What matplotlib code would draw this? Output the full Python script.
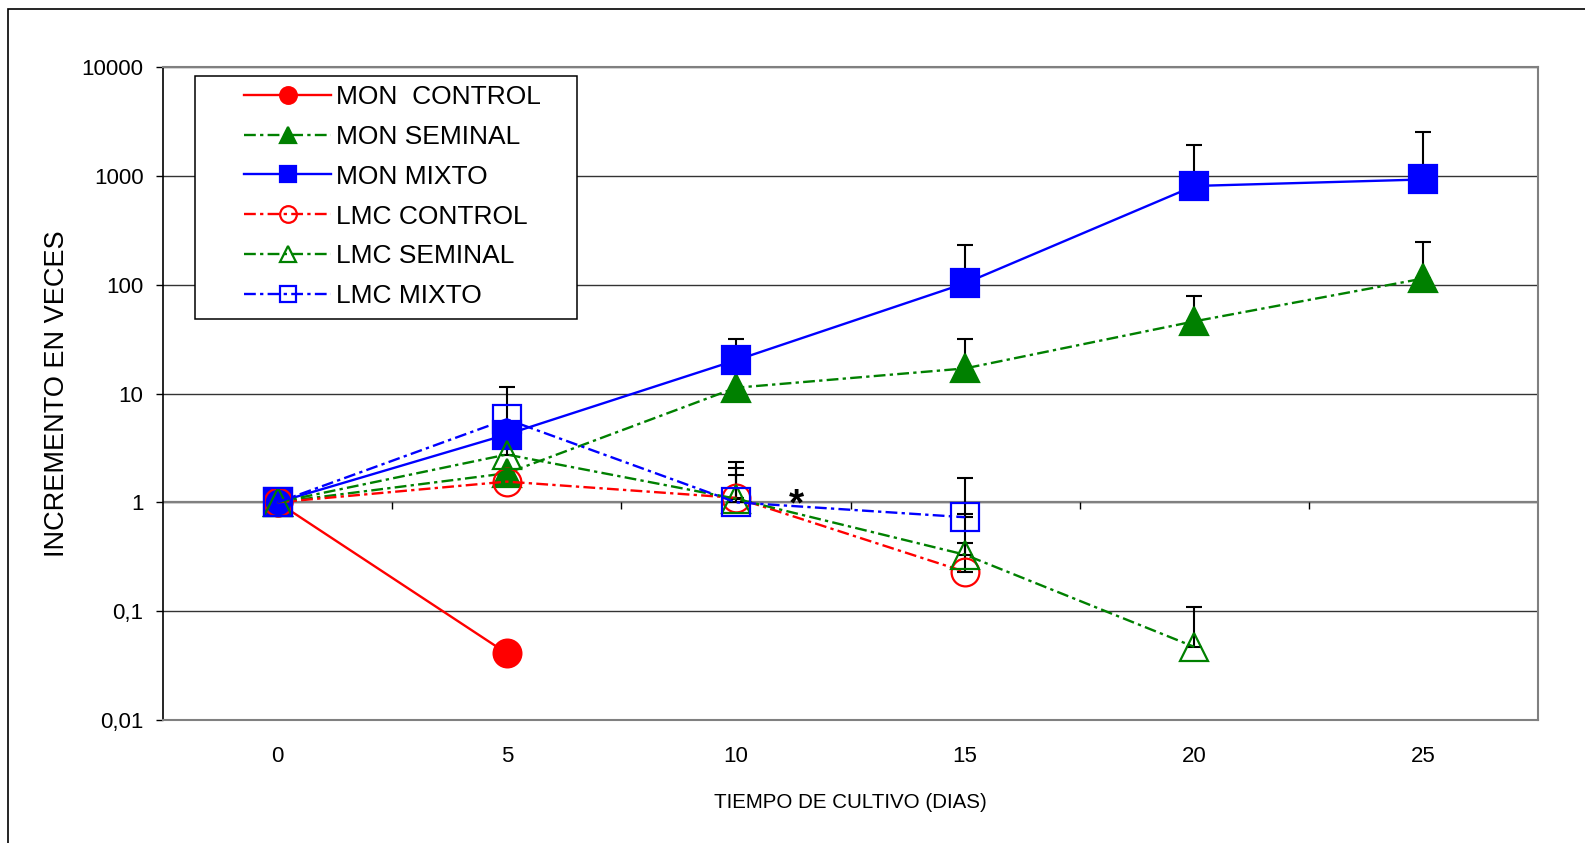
import numpy as np
import matplotlib
matplotlib.use("Agg")
import matplotlib.pyplot as plt
from matplotlib.patches import Rectangle
from matplotlib import markers as mmarkers

# ---------------- data ----------------
days = [0, 5, 10, 15, 20, 25]
nan = np.nan

mon_control = [1, 0.041, nan, nan, nan, nan]
mon_seminal = [1, 1.85, 11.3, 17, 46, 114]
mon_mixto = [1, 4.2, 20.2, 103, 807, 926]
lmc_control = [1, 1.55, 1.1, 0.23, nan, nan]
lmc_seminal = [1, 2.75, 1.08, 0.33, 0.047, nan]
lmc_mixto = [1, 5.8, 1.0, 0.73, nan, nan]

# upper ends of the error bars
mon_control_top = [nan, nan, nan, nan, nan, nan]
mon_seminal_top = [nan, nan, nan, 32, 78, 247]
mon_mixto_top = [nan, nan, 31.8, 232, 1905, 2550]
lmc_control_top = [nan, nan, 2.37, 0.78, nan, nan]
lmc_seminal_top = [nan, 11.4, 2.06, 0.42, 0.11, nan]
lmc_mixto_top = [nan, nan, 1.79, 1.69, nan, nan]

labels = ["MON  CONTROL", "MON SEMINAL", "MON MIXTO",
          "LMC CONTROL", "LMC SEMINAL", "LMC MIXTO"]

y_ticks = [0.01, 0.1, 1, 10, 100, 1000, 10000]
y_tick_labels = ["0,01", "0,1", "1", "10", "100", "1000", "10000"]
x_tick_labels = ["0", "5", "10", "15", "20", "25"]

# ---------------- styles ----------------
RED, GREEN, BLUE = "#ff0000", "#008000", "#0000ff"
DASHDOT = (0, (5.0, 1.8, 1.4, 1.8))
styles = {
    "MON  CONTROL": dict(color=RED, marker="o", filled=True, ls="-"),
    "MON SEMINAL": dict(color=GREEN, marker="^", filled=True, ls=DASHDOT),
    "MON MIXTO": dict(color=BLUE, marker="s", filled=True, ls="-"),
    "LMC CONTROL": dict(color=RED, marker="o", filled=False, ls=DASHDOT),
    "LMC SEMINAL": dict(color=GREEN, marker="^", filled=False, ls=DASHDOT),
    "LMC MIXTO": dict(color=BLUE, marker="s", filled=False, ls=DASHDOT),
}

plt.rcParams["font.family"] = ["Liberation Sans", "DejaVu Sans"]

W, H = 1585, 843
fig = plt.figure(figsize=(W / 100, H / 100), dpi=100)
ax = fig.add_axes([163 / W, 1 - 720 / H, (1538 - 163) / W, (720 - 67) / H])

ax.set_yscale("log")
ax.set_ylim(0.01, 10000)
ax.set_xlim(days[0] - 2.5, days[-1] + 2.5)

values = [mon_control, mon_seminal, mon_mixto, lmc_control, lmc_seminal, lmc_mixto]
tops = [mon_control_top, mon_seminal_top, mon_mixto_top,
        lmc_control_top, lmc_seminal_top, lmc_mixto_top]

x = np.array(days, dtype=float)
handles = []
for i, (lab, vals, top) in enumerate(zip(labels, values, tops)):
    st = styles[lab]
    v = np.array(vals, dtype=float)
    t = np.array(top, dtype=float)
    ok = np.isfinite(t)
    if ok.any():
        ax.errorbar(x[ok], v[ok], yerr=[np.zeros(ok.sum()), t[ok] - v[ok]],
                    fmt="none", ecolor="black", elinewidth=1.5, capsize=5.8,
                    capthick=1.5, zorder=2.5 + i * 0.1)
    ln, = ax.plot(x, v, color=st["color"], linestyle=st["ls"], linewidth=1.7,
                  marker=st["marker"], markersize=20,
                  markerfacecolor=st["color"] if st["filled"] else "none",
                  markeredgecolor=st["color"], markeredgewidth=1.6,
                  label=lab, zorder=3 + i * 0.1)
    handles.append(ln)

# asterisk annotation
ax.text(11.33, 0.757, "*", fontsize=28, fontweight="bold", ha="center",
        va="baseline", zorder=4)

# axis line at y = 1 with category separators
ax.axhline(1, color="#808080", lw=1.6, zorder=1.5)
mids = (x[:-1] + x[1:]) / 2
ax.plot(mids, np.ones_like(mids), linestyle="none", marker=mmarkers.TICKDOWN,
        markersize=5, markeredgewidth=1.0, color="black", zorder=1.6)

# ticks
ax.set_yticks(y_ticks)
ax.set_yticklabels(y_tick_labels)
ax.yaxis.set_minor_locator(matplotlib.ticker.NullLocator())
ax.set_xticks(days)
ax.set_xticklabels(x_tick_labels)
ax.tick_params(axis="y", which="major", direction="out", length=5, width=1.0,
               color="black", pad=9, labelsize=16)
ax.tick_params(axis="x", which="major", length=0, pad=18.7, labelsize=16)

ax.set_axisbelow(True)
ax.grid(axis="y", which="major", color="#333333", lw=1.0)
ax.grid(axis="x", visible=False)

for s in ["top", "right", "bottom"]:
    ax.spines[s].set_color("#808080")
    ax.spines[s].set_linewidth(1.5)
ax.spines["left"].set_color("black")
ax.spines["left"].set_linewidth(1.2)

# axis labels
ax.set_ylabel("INCREMENTO EN VECES", fontsize=19.5, va="center")
ax.yaxis.set_label_coords((57 - 163) / 1375, 0.5)
ax.set_xlabel("TIEMPO DE CULTIVO (DIAS)", fontsize=14.8, va="center")
ax.xaxis.set_label_coords(0.5, -(802 - 720) / 653)

# legend box + legend
ax.add_patch(Rectangle(((195 - 163) / 1375, 1 - (319 - 67) / 653),
                       (577 - 195) / 1375, (319 - 75.7) / 653,
                       transform=ax.transAxes, facecolor="white",
                       edgecolor="black", lw=1.1, zorder=4.9))
leg = ax.legend(handles=handles, loc="upper left",
                bbox_to_anchor=((244 - 163) / 1375, 1 - (85 - 67) / 653),
                frameon=False, fontsize=19, borderpad=0, borderaxespad=0,
                handlelength=3.3, handletextpad=0.18, labelspacing=0.6,
                markerscale=0.6)
leg.set_zorder(5)

# outer frame
fig.add_artist(Rectangle((8 / W, -0.05), 1.2, 1 - 9 / H + 0.05,
                         transform=fig.transFigure, fill=False,
                         edgecolor="black", lw=1.2))

fig.savefig("out.png", dpi=100)
